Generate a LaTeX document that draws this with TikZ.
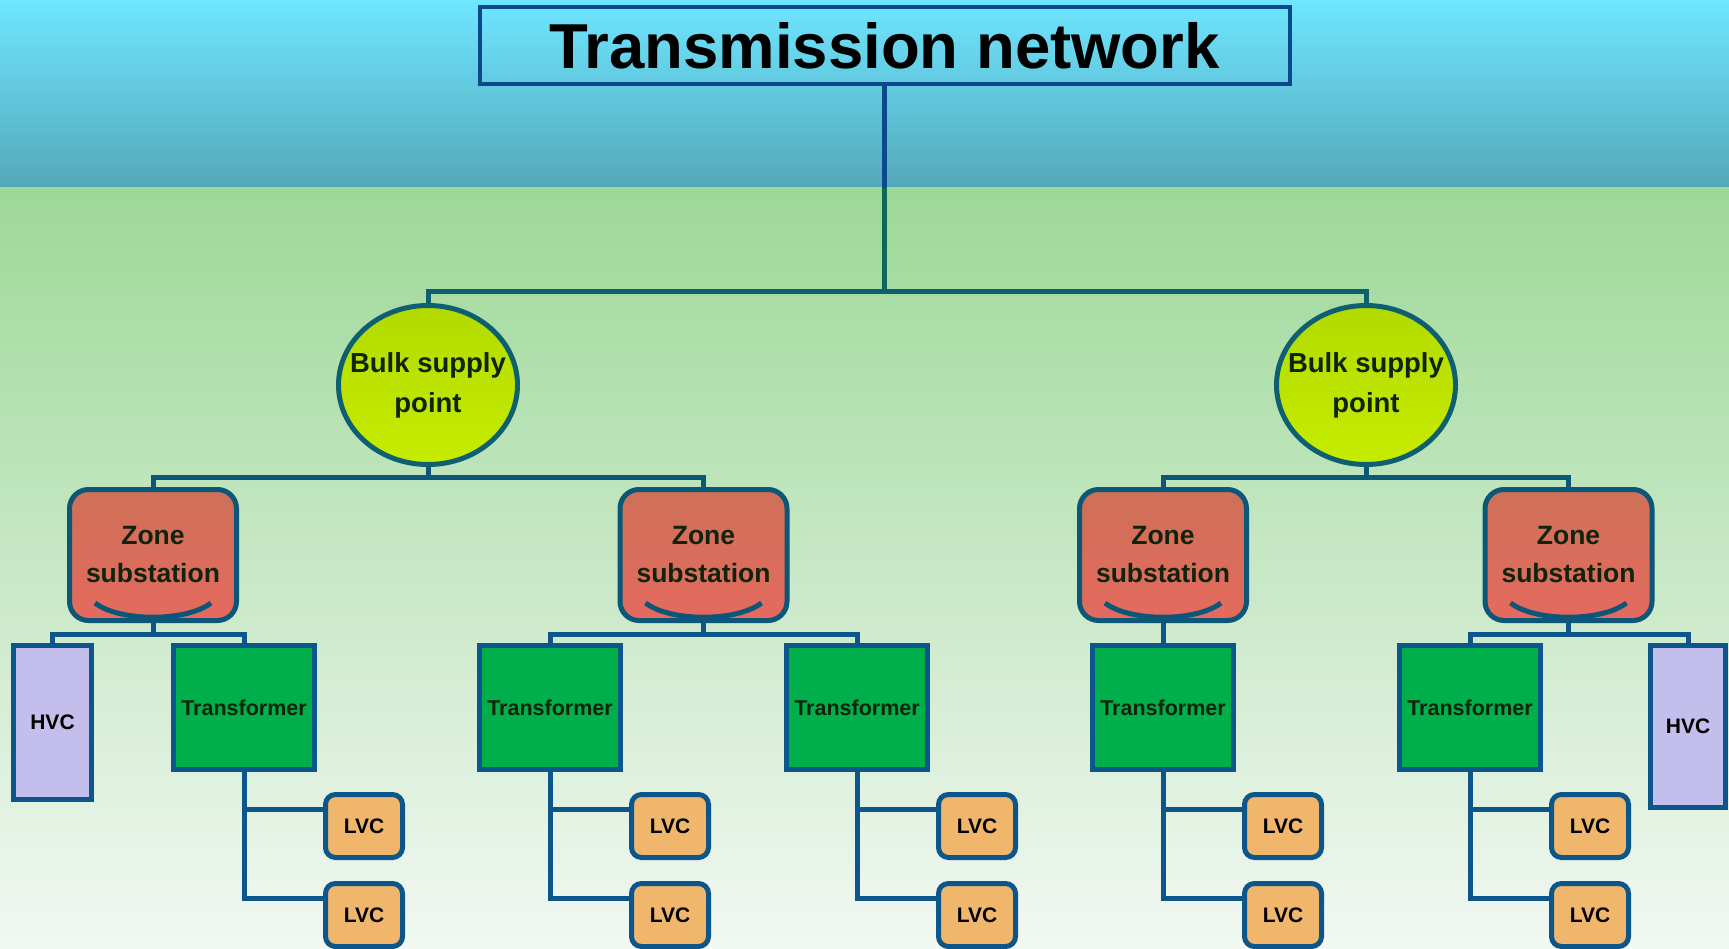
\documentclass[tikz,border=0pt]{standalone}
\usepackage{fontspec}
\setmainfont{Liberation Sans}
\usetikzlibrary{shapes.geometric}

\definecolor{skytop}{HTML}{6EE6FF}
\definecolor{skybot}{HTML}{55A8BA}
\definecolor{fieldtop}{HTML}{9DD898}
\definecolor{fieldmid}{HTML}{DDF0DF}
\definecolor{fieldbot}{HTML}{F2F8F3}
\definecolor{navy}{HTML}{0A4A8C}
\definecolor{pine}{HTML}{0B6A55}
\definecolor{tealline}{HTML}{0E6070}
\definecolor{zoneline}{HTML}{0C5678}
\definecolor{boxline}{HTML}{0D568C}
\definecolor{bulktop}{HTML}{B2DA00}
\definecolor{bulkbot}{HTML}{C6EC00}
\definecolor{zonetop}{HTML}{CE7058}
\definecolor{zonebot}{HTML}{E46A5E}
\definecolor{hvcfill}{HTML}{C4BEEC}
\definecolor{trfill}{HTML}{00AE4C}
\definecolor{lvcfill}{HTML}{F0B66C}
\definecolor{ink}{HTML}{10240C}

\begin{document}
\begin{tikzpicture}[x=1pt, y=-1pt, line width=5pt,
    every node/.style={inner sep=0pt, align=center},
    grid/.style={draw=navy, line width=4pt, minimum width=810pt, minimum height=77pt, font=\fontsize{63.5}{70}\selectfont\bfseries},
    bulk/.style={draw=tealline, ellipse, inner xsep=-15pt, top color=bulktop, bottom color=bulkbot, minimum width=179pt, minimum height=159pt, text=ink, font=\fontsize{27.5}{40}\selectfont\bfseries},
    zone/.style={draw=zoneline, rounded corners=19pt, top color=zonetop, bottom color=zonebot, minimum width=167pt, minimum height=131pt, text=ink, font=\fontsize{26.5}{38}\selectfont\bfseries},
    hvc/.style={draw=boxline, fill=hvcfill, minimum width=78pt, minimum height=154pt, font=\fontsize{21}{24}\selectfont\bfseries},
    trafo/.style={draw=boxline, fill=trfill, minimum width=141pt, minimum height=124pt, text=ink, font=\fontsize{21.5}{24}\selectfont\bfseries},
    lvc/.style={draw=boxline, fill=lvcfill, rounded corners=10pt, minimum width=77pt, minimum height=63pt, font=\fontsize{21}{24}\selectfont\bfseries}]
    \useasboundingbox (0,0) rectangle (1729,949);
    % background bands
    \shade[top color=skytop, bottom color=skybot] (0,0) rectangle (1729,188);
    \shade[top color=fieldtop, middle color=fieldmid, bottom color=fieldbot] (0,188) rectangle (1729,949);

    \node[grid] (top) at (884.5,46) {Transmission network};
    \coordinate (hub) at (884.5,292);

    \node[bulk] (b1) at (428,385) {Bulk supply\\point};
    \node[bulk] (b2) at (1366,385) {Bulk supply\\point};

    \node[zone] (z1) at (153,555) {Zone\\substation};
    \node[zone] (z2) at (703.5,555) {Zone\\substation};
    \node[zone] (z3) at (1163,555) {Zone\\substation};
    \node[zone] (z4) at (1568.5,555) {Zone\\substation};
    \foreach \z in {z1,z2,z3,z4}
      \draw[zoneline, shift={(\z)}] (-58,48) .. controls (-33,67) and (33,67) .. (58,48);

    \node[hvc] (h1) at (52.5,722.5) {HVC};
    \node[hvc, minimum width=75pt, minimum height=162pt] (h2) at (1688,726.5) {HVC};

    \node[trafo] (t1) at (244,707.5) {Transformer};
    \node[trafo] (t2) at (550,707.5) {Transformer};
    \node[trafo] (t3) at (857,707.5) {Transformer};
    \node[trafo] (t4) at (1163,707.5) {Transformer};
    \node[trafo] (t5) at (1470,707.5) {Transformer};

    \node[lvc] (l1a) at (364,826) {LVC};
    \node[lvc] (l1b) at (364,915) {LVC};
    \node[lvc] (l2a) at (670,826) {LVC};
    \node[lvc] (l2b) at (670,915) {LVC};
    \node[lvc] (l3a) at (977,826) {LVC};
    \node[lvc] (l3b) at (977,915) {LVC};
    \node[lvc] (l4a) at (1283,826) {LVC};
    \node[lvc] (l4b) at (1283,915) {LVC};
    \node[lvc] (l5a) at (1590,826) {LVC};
    \node[lvc] (l5b) at (1590,915) {LVC};

    % trunk from the top box
    \draw[pine] (top) -- (hub);
    \begin{scope}
      \clip (0,0) rectangle (1729,188);
      \draw[navy] (top) -- (hub);
    \end{scope}
    \draw[tealline] (b1.north) |- (hub) -| (b2.north);

    \draw[zoneline] (b1) -- (b1.south |- 0,477.5);
    \draw[zoneline] (z1.north) |- (b1.south |- 0,477.5) -| (z2.north);
    \draw[zoneline] (b2) -- (b2.south |- 0,477.5);
    \draw[zoneline] (z3.north) |- (b2.south |- 0,477.5) -| (z4.north);

    \draw[boxline] (z1) -- (z1.south |- 0,634);
    \draw[boxline] (h1.north) |- (z1.south |- 0,634) -| (t1.north);
    \draw[boxline] (z2) -- (z2.south |- 0,634);
    \draw[boxline] (t2.north) |- (z2.south |- 0,634) -| (t3.north);
    \draw[boxline] (z3) -- (t4);
    \draw[boxline] (z4) -- (z4.south |- 0,634);
    \draw[boxline] (t5.north) |- (z4.south |- 0,634) -| (h2.north);

    \draw[boxline] (t1.south) |- ([yshift=-17pt]l1a.north west);
    \draw[boxline] (t1.south) |- ([yshift=-17pt]l1b.north west);
    \draw[boxline] (t2.south) |- ([yshift=-17pt]l2a.north west);
    \draw[boxline] (t2.south) |- ([yshift=-17pt]l2b.north west);
    \draw[boxline] (t3.south) |- ([yshift=-17pt]l3a.north west);
    \draw[boxline] (t3.south) |- ([yshift=-17pt]l3b.north west);
    \draw[boxline] (t4.south) |- ([yshift=-17pt]l4a.north west);
    \draw[boxline] (t4.south) |- ([yshift=-17pt]l4b.north west);
    \draw[boxline] (t5.south) |- ([yshift=-17pt]l5a.north west);
    \draw[boxline] (t5.south) |- ([yshift=-17pt]l5b.north west);
\end{tikzpicture}
\end{document}
